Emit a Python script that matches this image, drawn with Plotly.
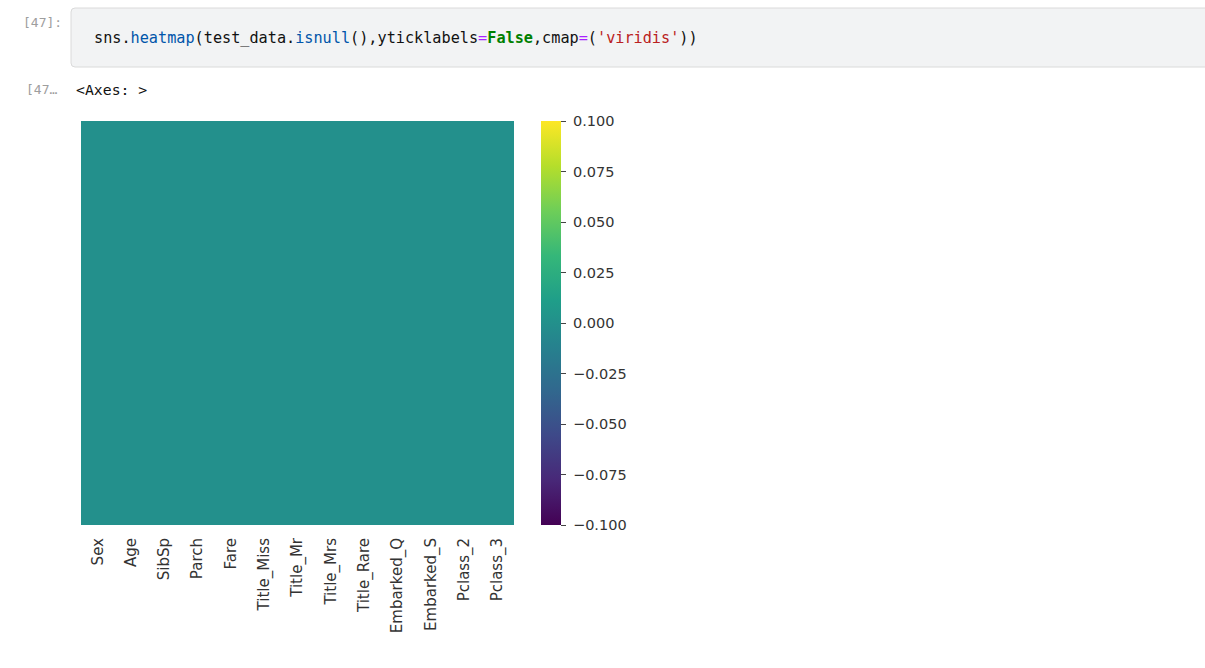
import plotly.graph_objects as go

# ---------------- data ----------------
columns = ["Sex", "Age", "SibSp", "Parch", "Fare", "Title_Miss", "Title_Mr",
           "Title_Mrs", "Title_Rare", "Embarked_Q", "Embarked_S", "Pclass_2", "Pclass_3"]
n_rows = 418
null_flags = [0, 0, 0, 0, 0, 0, 0, 0, 0, 0, 0, 0, 0]  # isnull() -> all False
cbar_tickvals = [-0.1, -0.075, -0.05, -0.025, 0.0, 0.025, 0.05, 0.075, 0.1]
cbar_ticktext = ["\u22120.100", "\u22120.075", "\u22120.050", "\u22120.025", "0.000",
                 "0.025", "0.050", "0.075", "0.100"]

W, H = 1205, 668
def px(x):
    return x / W
def py(y):
    return 1 - y / H

z = [[null_flags[j] for j in range(len(columns))] for _ in range(n_rows)]

fig = go.Figure()
fig.add_trace(go.Heatmap(
    z=z, x=columns, y=list(range(n_rows)),
    colorscale="Viridis", zmin=-0.1, zmax=0.1,
    hoverinfo="skip",
    colorbar=dict(
        x=px(541), xanchor="left", xpad=0,
        y=py(121), yanchor="top", ypad=0,
        len=404, lenmode="pixels",
        thickness=20, thicknessmode="pixels",
        outlinewidth=0,
        tickmode="array", tickvals=cbar_tickvals,
        ticktext=[" " + t for t in cbar_ticktext],
        ticks="outside", ticklen=5, tickwidth=1, tickcolor="#444444",
        tickfont=dict(family="DejaVu Sans", size=14.5, color="#333333"),
    ),
))

fig.update_layout(
    width=W, height=H,
    margin=dict(l=0, r=0, t=0, b=0),
    paper_bgcolor="white", plot_bgcolor="white",
    xaxis=dict(domain=[px(81), px(514)], tickangle=-90, ticks="",
               tickfont=dict(family="DejaVu Sans", size=15, color="#333333"),
               showgrid=False, zeroline=False, showline=False, ticklabelstandoff=9),
    yaxis=dict(domain=[py(525), py(121)], autorange="reversed", showticklabels=False,
               showgrid=False, zeroline=False, showline=False, ticks=""),
)

# rounded code-cell box
x0, x1, y0, y1, r = px(71), px(1215), py(67), py(8), 4
rx, ry = r / W, r / H
path = (f"M {x0+rx},{y1} L {x1-rx},{y1} Q {x1},{y1} {x1},{y1-ry} "
        f"L {x1},{y0+ry} Q {x1},{y0} {x1-rx},{y0} L {x0+rx},{y0} "
        f"Q {x0},{y0} {x0},{y0+ry} L {x0},{y1-ry} Q {x0},{y1} {x0+rx},{y1} Z")
fig.add_shape(type="path", path=path, xref="paper", yref="paper",
              fillcolor="#f2f3f4", line=dict(color="#dadada", width=1), layer="below")

code_html = ("sns.<span style='color:#0055aa'>heatmap</span>(test_data."
             "<span style='color:#0055aa'>isnull</span>(),yticklabels"
             "<span style='color:#aa22ff'>=</span><span style='color:#008000'><b>False</b></span>"
             ",cmap<span style='color:#aa22ff'>=</span>("
             "<span style='color:#ba2121'>'viridis'</span>))")

annots = [
    dict(text="[47]:", x=px(64), y=py(23), xanchor="right", yanchor="middle",
         font=dict(family="DejaVu Sans Mono", size=13, color="#9e9e9e")),
    dict(text=code_html, x=px(92), y=py(38), xanchor="left", yanchor="middle",
         font=dict(family="DejaVu Sans Mono", size=15.2, color="#111111")),
    dict(text="[47\u2026", x=px(24), y=py(89), xanchor="left", yanchor="middle",
         font=dict(family="DejaVu Sans Mono", size=13, color="#9e9e9e")),
    dict(text="&lt;Axes: &gt;", x=px(74), y=py(89), xanchor="left", yanchor="middle",
         font=dict(family="DejaVu Sans Mono", size=14.8, color="#111111")),
]
for a in annots:
    a.update(xref="paper", yref="paper", showarrow=False)
fig.update_layout(annotations=annots)

fig.write_html("out.html", config={"displayModeBar": False},
               post_script="document.body.style.margin='0';")
